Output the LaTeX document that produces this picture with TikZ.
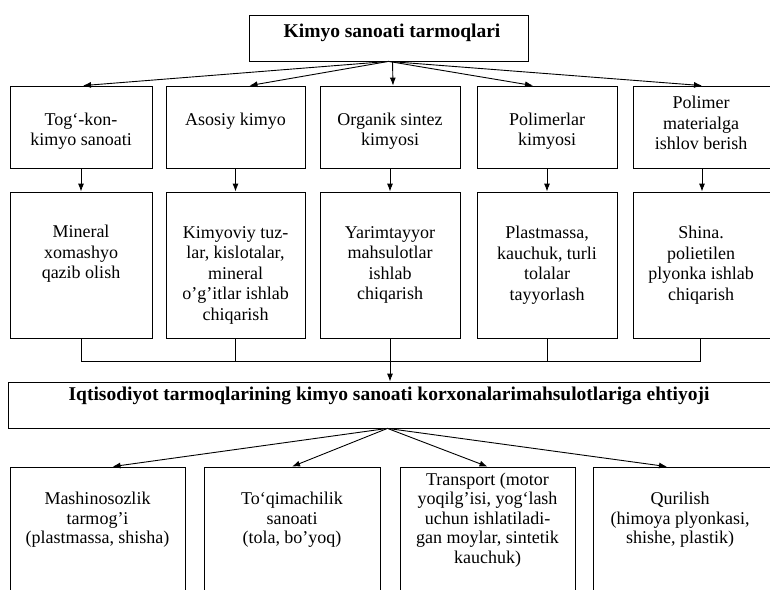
\documentclass[tikz,border=0pt]{standalone}
\usepackage{fontspec}
\setmainfont{Liberation Serif}
\usetikzlibrary{arrows.meta}

\begin{document}
\begin{tikzpicture}[x=1pt, y=-1pt,
		kutu/.style={draw, line width=0.8pt, inner sep=0pt},
		yozuv/.style={align=center, inner sep=0pt, font=\fontsize{18}{20.5}\selectfont},
		yozuvzich/.style={yozuv, font=\fontsize{18}{19.5}\selectfont},
		qalin/.style={inner sep=0pt, font=\fontsize{19.5}{22}\selectfont\bfseries},
		strelka/.style={-{Latex[length=8pt,width=6pt]}, line width=0.9pt}]
	\useasboundingbox (0,0) rectangle (770,589);
	\clip (0,0) rectangle (770,589);

	\node[kutu, minimum width=279, minimum height=46] (bosh) at (388.5,38){};
		\node[qalin] (boshy) at (392,33){Kimyo sanoati tarmoqlari};

	\node[kutu, minimum width=142, minimum height=82] (k1) at (81,127){};
		\node[yozuv] (k1y) at (81,131){Tog`-kon-\\kimyo sanoati};
	\node[kutu, minimum width=139, minimum height=82] (k2) at (235.5,127){};
		\node[yozuv] (k2y) at (235.5,121){Asosiy kimyo};
	\node[kutu, minimum width=140, minimum height=82] (k3) at (390,127){};
		\node[yozuv] (k3y) at (390,131){Organik sintez\\kimyosi};
	\node[kutu, minimum width=140, minimum height=82] (k4) at (547,127){};
		\node[yozuv] (k4y) at (547,131){Polimerlar\\kimyosi};
	\node[kutu, minimum width=142, minimum height=82] (k5) at (704,127){};
		\node[yozuv] (k5y) at (701,123){Polimer\\materialga\\ishlov berish};

	\node[kutu, minimum width=142, minimum height=146] (m1) at (81,265){};
		\node[yozuv] (m1y) at (81,254){Mineral\\xomashyo\\qazib olish};
	\node[kutu, minimum width=139, minimum height=146] (m2) at (235.5,265){};
		\node[yozuv] (m2y) at (235.5,275){Kimyoviy tuz-\\lar, kislotalar,\\mineral\\o'g'itlar ishlab\\chiqarish};
	\node[kutu, minimum width=140, minimum height=146] (m3) at (390,265){};
		\node[yozuv] (m3y) at (390,265){Yarimtayyor\\mahsulotlar\\ishlab\\chiqarish};
	\node[kutu, minimum width=140, minimum height=146] (m4) at (547,265){};
		\node[yozuv] (m4y) at (547,265){Plastmassa,\\kauchuk, turli\\tolalar\\tayyorlash};
	\node[kutu, minimum width=142, minimum height=146] (m5) at (704,265){};
		\node[yozuv] (m5y) at (701,265){Shina.\\polietilen\\plyonka ishlab\\chiqarish};

	\node[kutu, minimum width=767, minimum height=46] (ehtiyoj) at (391.5,405){};
		\node[qalin] (ehtiyojy) at (389,396){Iqtisodiyot tarmoqlarining kimyo sanoati korxonalarimahsulotlariga ehtiyoji};

	\node[kutu, minimum width=175, minimum height=133] (s1) at (97.5,533.5){};
		\node[yozuvzich] (s1y) at (97.5,520){Mashinosozlik\\tarmog'i\\(plastmassa, shisha)};
	\node[kutu, minimum width=176, minimum height=133] (s2) at (292,533.5){};
		\node[yozuvzich] (s2y) at (292,520){To`qimachilik\\sanoati\\(tola, bo'yoq)};
	\node[kutu, minimum width=175, minimum height=133] (s3) at (487.5,533.5){};
		\node[yozuvzich] (s3y) at (487.5,520){Transport (motor\\yoqilg'isi, yog`lash\\uchun ishlatiladi-\\gan moylar, sintetik\\kauchuk)};
	\node[kutu, minimum width=182, minimum height=133] (s4) at (684,533.5){};
		\node[yozuvzich] (s4y) at (680,520){Qurilish\\(himoya plyonkasi,\\shishe, plastik)};

	\draw[strelka] (bosh.south) to ([xshift=2pt]k1.north);
	\draw[strelka] (bosh.south) to ([xshift=14pt]k2.north);
	\draw[strelka] ([xshift=4pt]bosh.south) to ([xshift=3pt]k3.north);
	\draw[strelka] (bosh.south) to ([xshift=-14pt]k4.north);
	\draw[strelka] (bosh.south) to ([xshift=-2pt]k5.north);

	\draw[strelka] (k1.south) to (m1.north);
	\draw[strelka] (k2.south) to (m2.north);
	\draw[strelka] (k3.south) to (m3.north);
	\draw[strelka] (k4.south) to (m4.north);
	\draw[strelka] ([xshift=-2pt]k5.south) to ([xshift=-2pt]m5.north);

	\coordinate (tutash) at (390,361);
	\draw[line width=0.8pt] (m1.south) |- (tutash);
	\draw[line width=0.8pt] (m2.south) |- (tutash);
	\draw[line width=0.8pt] (m4.south) |- (tutash);
	\draw[line width=0.8pt] ([xshift=-4pt]m5.south) |- (tutash);
	\draw[strelka] (m3.south) to (m3.south |- ehtiyoj.north);

	\draw[strelka] ([xshift=-4pt]ehtiyoj.south) to ([xshift=15pt]s1.north);
	\draw[strelka] ([xshift=-4pt]ehtiyoj.south) to (s2.north);
	\draw[strelka] ([xshift=-4pt]ehtiyoj.south) to (s3.north);
	\draw[strelka] ([xshift=-4pt]ehtiyoj.south) to ([xshift=-17pt]s4.north);
\end{tikzpicture}
\end{document}
